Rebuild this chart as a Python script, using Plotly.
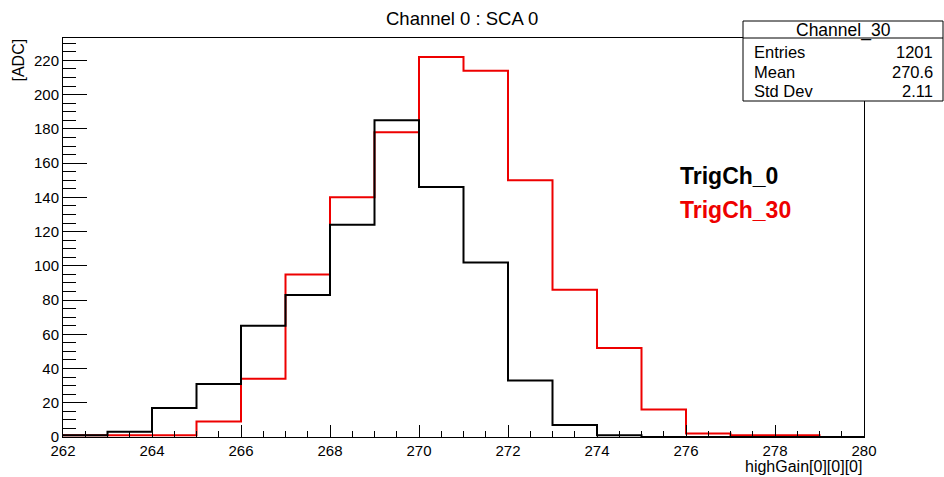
import plotly.graph_objects as go

# ---- data ----
bin_edges = list(range(262, 281))  # 262..280
trig0_counts = [1, 3, 17, 31, 65, 83, 124, 185, 146, 102, 33, 7, 1, 0, 0, 0, 0, 0]
trig30_counts = [1, 1, 1, 9, 34, 95, 140, 178, 222, 214, 150, 86, 52, 16, 2, 1, 1, 0]
stats_title = "Channel_30"
stats_labels = ["Entries", "Mean", "Std Dev"]
stats_values = ["1201", "270.6", "2.11"]
title_text = "Channel 0 : SCA 0"
x_title = "highGain[0][0][0]"
y_title = "[ADC]"
legend_names = ["TrigCh_0", "TrigCh_30"]

W, H = 944, 477
L, R, T, B = 63, 864, 38, 437  # plot frame in pixels
pw, ph = R - L, B - T

def px(x):
    return (x - L) / pw

def py(y):
    return (B - y) / ph

FONT = "Liberation Sans, Arial, Helvetica, sans-serif"

def step_xy(edges, counts):
    return edges, counts + [counts[-1]]

fig = go.Figure()
for counts, color in [(trig30_counts, "#ee0000"), (trig0_counts, "black")]:
    xs, ys = step_xy(bin_edges, counts)
    fig.add_trace(go.Scatter(x=xs, y=ys, mode="lines", line=dict(color=color, width=2, shape="hv"),
                             showlegend=False, hoverinfo="skip"))

ymax = max(max(trig0_counts), max(trig30_counts)) * 1.05

fig.update_layout(
    width=W, height=H,
    margin=dict(l=L, r=W - R, t=T, b=H - B, pad=0),
    paper_bgcolor="white", plot_bgcolor="white",
    font=dict(family=FONT, size=15, color="black"),
    xaxis=dict(range=[262, 280], tickmode="linear", tick0=262, dtick=2,
               ticks="inside", ticklen=12, tickwidth=1, tickcolor="black",
               showline=True, linecolor="black", linewidth=1, mirror=True,
               showgrid=False, zeroline=False,
               tickfont=dict(size=15, family=FONT),
               minor=dict(ticks="inside", ticklen=6, dtick=0.5, tickcolor="black", showgrid=False)),
    yaxis=dict(range=[0, ymax], tickmode="linear", tick0=0, dtick=20,
               ticks="inside", ticklen=24, tickwidth=1, tickcolor="black",
               showline=True, linecolor="black", linewidth=1, mirror=True,
               showgrid=False, zeroline=False,
               tickfont=dict(size=15, family=FONT),
               minor=dict(ticks="inside", ticklen=13, dtick=5, tickcolor="black", showgrid=False)),
)

ann = []
ann.append(dict(text=title_text, xref="paper", yref="paper", x=px(462), y=py(18),
                xanchor="center", yanchor="middle", showarrow=False, font=dict(size=18.5)))
ann.append(dict(text=x_title, xref="paper", yref="paper", x=1.0, y=py(466),
                xanchor="right", yanchor="middle", showarrow=False, font=dict(size=16)))
ann.append(dict(text=y_title, xref="paper", yref="paper", x=px(18), y=py(37),
                xanchor="center", yanchor="top", textangle=-90, showarrow=False, font=dict(size=16)))
# legend texts
ann.append(dict(text="<b>%s</b>" % legend_names[0], xref="paper", yref="paper", x=px(678), y=py(176),
                xanchor="left", yanchor="middle", showarrow=False, font=dict(size=23, color="black")))
ann.append(dict(text="<b>%s</b>" % legend_names[1], xref="paper", yref="paper", x=px(678), y=py(210),
                xanchor="left", yanchor="middle", showarrow=False, font=dict(size=23, color="#ee0000")))

# stats box
bx0, bx1, by0, by1, bsep = 743, 943, 21, 101, 38
shapes = [
    dict(type="rect", xref="paper", yref="paper", x0=px(bx0), x1=px(bx1), y0=py(by1), y1=py(by0),
         line=dict(color="black", width=1), fillcolor="white", layer="above"),
    dict(type="line", xref="paper", yref="paper", x0=px(bx0), x1=px(bx1), y0=py(bsep), y1=py(bsep),
         line=dict(color="black", width=1), layer="above"),
]
ann.append(dict(text=stats_title, xref="paper", yref="paper", x=px((bx0 + bx1) / 2), y=py(30),
                xanchor="center", yanchor="middle", showarrow=False, font=dict(size=17.5)))
row_y = [52, 72, 91]
for lab, val, yy in zip(stats_labels, stats_values, row_y):
    ann.append(dict(text=lab, xref="paper", yref="paper", x=px(752), y=py(yy),
                    xanchor="left", yanchor="middle", showarrow=False, font=dict(size=16.5)))
    ann.append(dict(text=val, xref="paper", yref="paper", x=px(935), y=py(yy),
                    xanchor="right", yanchor="middle", showarrow=False, font=dict(size=16.5)))

fig.update_layout(annotations=ann, shapes=shapes)
fig.write_html("out.html", config={"displayModeBar": False},
               post_script="document.body.style.margin='0';document.body.style.overflow='hidden';")
